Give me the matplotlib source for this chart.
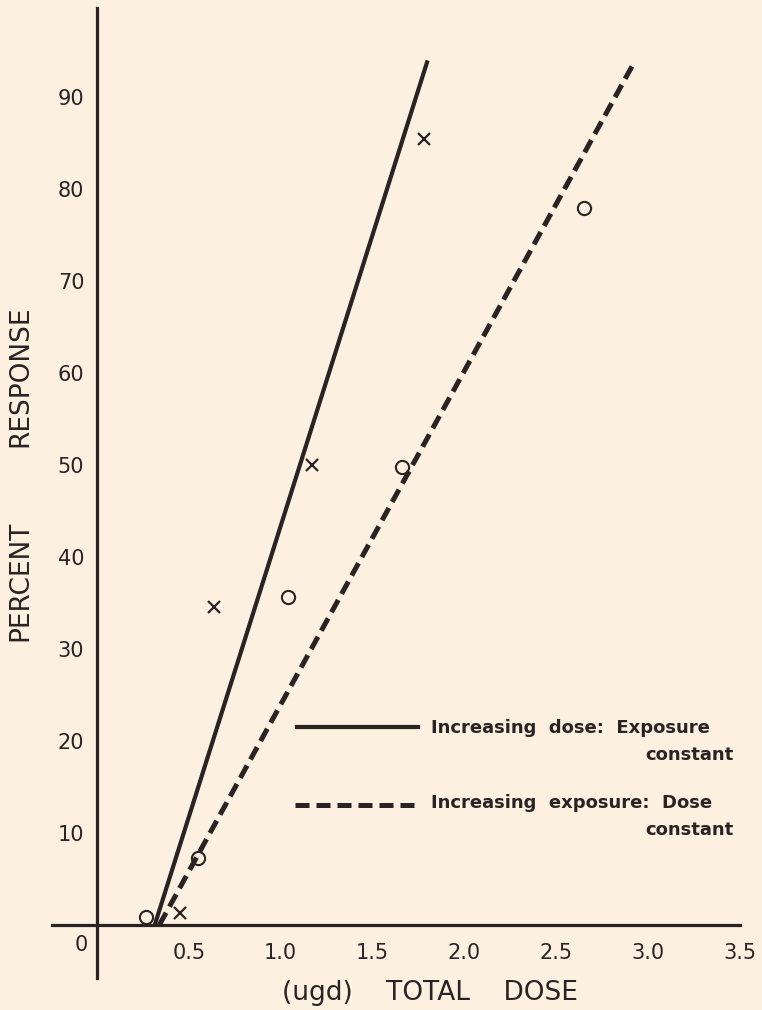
import matplotlib
matplotlib.use('Agg')
from matplotlib import pyplot as plt
import numpy as np

# fitted lines (end points)
dose_line_x = [0.315, 1.80]
dose_line_y = [0.0, 94.0]
exp_line_x = [0.34, 2.93]
exp_line_y = [0.0, 94.0]

# observed points: x = increasing dose, o = increasing exposure
dose_x = [0.45, 0.635, 1.17, 1.78]
dose_y = [1.3, 34.6, 50.0, 85.5]
exp_x = [0.27, 0.55, 1.04, 1.66, 2.65]
exp_y = [0.9, 7.3, 35.7, 49.8, 78.0]

xticks = [0.5, 1.0, 1.5, 2.0, 2.5, 3.0, 3.5]
yticks = [10, 20, 30, 40, 50, 60, 70, 80, 90]

bg = '#fcf0e1'
ink = '#2b2222'
W, H = 762, 1010

fig = plt.figure(figsize=(W/100, H/100), dpi=100, facecolor=bg)
# axes box in pixels: left 52, right 740, top 8, bottom 978
ax = fig.add_axes([52/W, 1-978/H, (740-52)/W, (978-8)/H])
ax.set_facecolor(bg)
ax.set_xlim(-0.244, 3.49)
ax.set_ylim(-5.76, 99.7)

for s in ['top', 'right']:
    ax.spines[s].set_visible(False)
for s in ['left', 'bottom']:
    ax.spines[s].set_position(('data', 0))
    ax.spines[s].set_linewidth(2.3)
    ax.spines[s].set_color(ink)

ax.set_xticks(xticks)
ax.set_xticklabels(['%.1f' % v for v in xticks])
ax.set_yticks(yticks)
ax.set_yticklabels([str(v) for v in yticks])
ax.tick_params(axis='x', length=0, pad=13, labelsize=15, labelcolor=ink)
ax.tick_params(axis='y', length=0, pad=9, labelsize=15, labelcolor=ink)
ax.text(-0.087, -2.2, '0', ha='center', va='center', fontsize=15, color=ink)

ax.plot(dose_line_x, dose_line_y, color=ink, lw=3.0, solid_capstyle='butt')
ax.plot(exp_line_x, exp_line_y, color=ink, lw=3.6, linestyle=(0, (2.8, 1.4)))
ax.plot(dose_x, dose_y, 'x', color=ink, ms=9, mew=1.6)
ax.plot(exp_x, exp_y, 'o', color=ink, ms=9.5, mew=1.5, mfc='none')

# legend drawn by hand
def fx(px):
    return (px-52)/688
def fy(py):
    return (978-py)/970

ax.plot([fx(297), fx(418)], [fy(727), fy(727)], transform=ax.transAxes,
        color=ink, lw=3.0, clip_on=False)
ax.plot([fx(295), fx(418)], [fy(805), fy(805)], transform=ax.transAxes,
        color=ink, lw=3.6, linestyle=(0, (2.8, 1.4)), clip_on=False)
lg = dict(transform=ax.transAxes, fontsize=13, color=ink, fontweight='bold', va='center')
ax.text(fx(431), fy(728), 'Increasing  dose:  Exposure', ha='left', **lg)
ax.text(fx(733), fy(755), 'constant', ha='right', **lg)
ax.text(fx(431), fy(803), 'Increasing  exposure:  Dose', ha='left', **lg)
ax.text(fx(733), fy(830), 'constant', ha='right', **lg)

fig.text(430/W, 1-993/H, '(ugd)    TOTAL    DOSE', ha='center', va='center',
         fontsize=19, color=ink)
fig.text(20/W, 1-581/H, 'PERCENT', rotation=90, ha='center', va='center',
         fontsize=19, color=ink)
fig.text(20/W, 1-376/H, 'RESPONSE', rotation=90, ha='center', va='center',
         fontsize=19, color=ink)

plt.savefig('out.png', dpi=100, facecolor=bg)
